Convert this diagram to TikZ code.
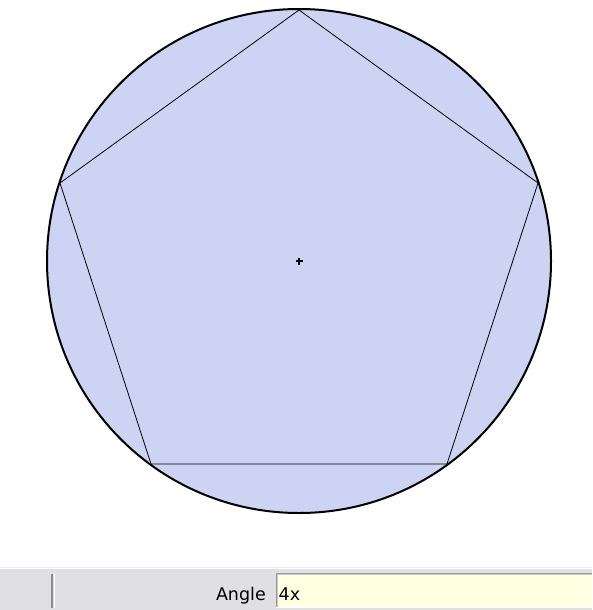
\documentclass[tikz,border=0pt]{standalone}
\usepackage{fontspec}
\setmainfont{DejaVu Sans}
\definecolor{diskfill}{RGB}{204,211,243}
\definecolor{bargray}{RGB}{224,223,227}
\definecolor{fieldyellow}{RGB}{255,255,225}
\definecolor{fieldborder}{RGB}{150,150,155}
\tikzset{
  outline/.style={draw=black, line width=2pt},
  poly/.style={draw=black, line width=0.8pt},
  lbl/.style={font=\fontsize{17.5}{17.5}\selectfont, inner sep=0pt},
}
\begin{document}
\begin{tikzpicture}[x=1pt,y=-1pt]
\useasboundingbox (0,0) rectangle (592,610);
\fill[white] (0,0) rectangle (592,610);
% circle
\coordinate (c) at (299,261);
\fill[diskfill] (c) circle (252);
\draw[poly] (299,10) coordinate (q1) -- (60,183) coordinate (q2) -- (151,464) coordinate (q3) -- (447,464) coordinate (q4) -- (538,183) coordinate (q5) -- cycle;
\draw[outline] (c) circle (252);
\draw[line width=2pt] ([xshift=-3.5pt]c) -- ([xshift=3.5pt]c);
\draw[line width=2pt] ([yshift=-3.5pt]c) -- ([yshift=3.5pt]c);
% bottom bar
\draw[color=bargray!60, line width=1pt] (0,567) -- (592,567);
\fill[bargray] (0,569) rectangle (592,610);
\draw[color=gray!90, line width=1.2pt] (52,574) -- (52,608);
\draw[white, line width=1pt] (54,574) -- (54,608);
\fill[fieldyellow] (276,573) rectangle (592,607);
\draw[fieldborder, line width=1pt] (276,607) -- (276,573.5) -- (592,573.5);
\draw[fieldborder!50, line width=1pt] (277,607) -- (277,574.5) -- (592,574.5);
\draw[white, line width=1pt] (276,607.5) -- (592,607.5);
\node[lbl, anchor=base east] (angle) at (266,600) {Angle};
\node[lbl, anchor=base west] (val) at (278.5,600) {4x};
\end{tikzpicture}
\end{document}
